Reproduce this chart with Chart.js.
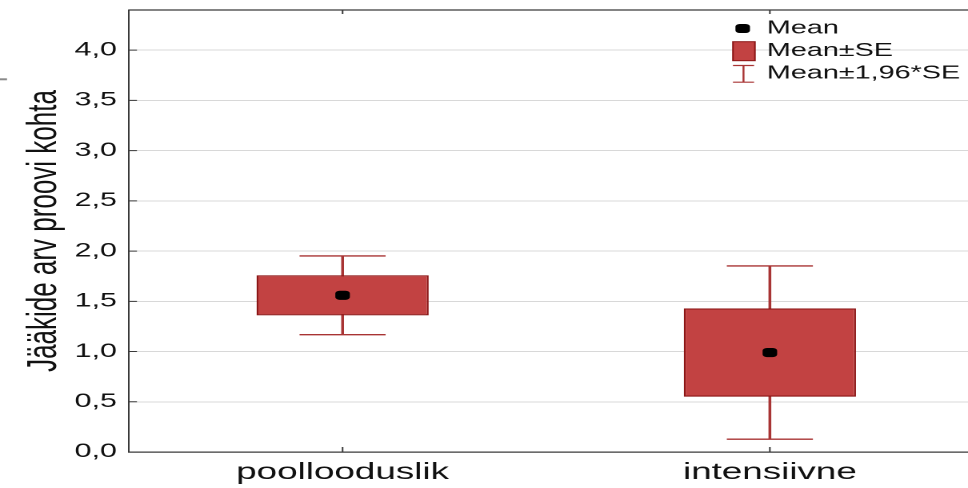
<!DOCTYPE html>
<html lang="et">
<head>
<meta charset="utf-8">
<script src="https://cdn.jsdelivr.net/npm/chart.js@4.4.1/dist/chart.umd.min.js"></script>
<style>
  html, body { margin: 0; padding: 0; background: #fff; overflow: hidden; width: 968px; height: 488px; }
  /* the whole figure is drawn at a narrow width and widened horizontally */
  #stage { width: 620px; height: 488px; transform: scaleX(1.6); transform-origin: 0 0; }
  canvas { display: block; }
</style>
</head>
<body>
<div id="stage"><canvas id="chart" width="620" height="488"></canvas></div>
<script>
// Group means and their standard errors
const categories = ['poollooduslik', 'intensiivne'];
const means = [1.56, 0.99];
const standardErrors = [0.20, 0.44];
const yTicks = [0, 0.5, 1, 1.5, 2, 2.5, 3, 3.5, 4];
const legendLabels = ['Mean', 'Mean±SE', 'Mean±1,96*SE'];
const yTitle = 'Jääkide arv proovi kohta';

// Boxes span mean ± SE, whiskers span mean ± 1.96·SE
const seBoxes = means.map((m, i) => [m - standardErrors[i], m + standardErrors[i]]);
const ciRanges = means.map((m, i) => [m - 1.96 * standardErrors[i], m + 1.96 * standardErrors[i]]);
const ciUpper = ciRanges.map(r => r[1]);
const ciLower = ciRanges.map(r => r[0]);

const FONT = '"Liberation Sans", Arial, sans-serif';
const boxFill = '#c24242';
const boxEdge = '#8c1616';
const whisker = '#a83434';
const axisColor = '#3a3a3a';
const textColor = '#111111';

// Frame top edge, inward tick marks and the legend box
const framePlugin = {
  id: 'frame',
  afterDraw(chart) {
    const { ctx, chartArea: a, scales: { x, y } } = chart;
    ctx.save();
    ctx.strokeStyle = axisColor;
    ctx.lineWidth = 1.3;
    ctx.beginPath();
    ctx.moveTo(a.left, a.top);
    ctx.lineTo(a.right, a.top);
    ctx.stroke();

    ctx.lineWidth = 1;
    ctx.beginPath();
    yTicks.forEach(v => {
      const py = y.getPixelForValue(v);
      ctx.moveTo(a.left, py);
      ctx.lineTo(a.left + 5, py);
    });
    categories.forEach((c, i) => {
      const px = x.getPixelForTick(i);
      ctx.moveTo(px, a.bottom);
      ctx.lineTo(px, a.bottom - 5);
      ctx.moveTo(px, a.top);
      ctx.lineTo(px, a.top + 4);
    });
    ctx.stroke();

    // short grey mark at the left margin
    ctx.strokeStyle = '#8a8a8a';
    ctx.lineWidth = 2;
    ctx.beginPath();
    ctx.moveTo(0, 79.3);
    ctx.lineTo(4.4, 79.3);
    ctx.stroke();

    // legend
    const iconX = 464.8;
    const textX = 479.2;
    const rows = [28.5, 51, 74];
    const baselines = [33.5, 56, 78.4];

    ctx.fillStyle = '#000';
    Chart.helpers.drawPoint(ctx, { pointStyle: 'rectRounded', radius: 5.3, rotation: 0, borderWidth: 0 }, iconX - 0.6, rows[0]);

    ctx.fillStyle = boxFill;
    ctx.strokeStyle = boxEdge;
    ctx.lineWidth = 1;
    ctx.fillRect(458.1, 41.7, 13.75, 19);
    ctx.strokeRect(458.1, 41.7, 13.75, 19);

    ctx.strokeStyle = whisker;
    ctx.lineWidth = 1.2;
    ctx.beginPath();
    ctx.moveTo(458.1, 65.5); ctx.lineTo(471.3, 65.5);
    ctx.moveTo(458.1, 82.2); ctx.lineTo(471.3, 82.2);
    ctx.moveTo(464.7, 65.5); ctx.lineTo(464.7, 82.2);
    ctx.stroke();

    ctx.fillStyle = textColor;
    ctx.font = '18px ' + FONT;
    ctx.textAlign = 'left';
    ctx.textBaseline = 'alphabetic';
    legendLabels.forEach((t, i) => ctx.fillText(t, textX, baselines[i]));
    ctx.restore();
  }
};

new Chart(document.getElementById('chart'), {
  type: 'bar',
  data: {
    labels: categories,
    datasets: [
      {
        type: 'bar', label: 'stem', data: ciRanges,
        backgroundColor: whisker, borderWidth: 0,
        barThickness: 1.1, grouped: false, order: 3
      },
      {
        type: 'bar', label: legendLabels[1], data: seBoxes,
        backgroundColor: boxFill, borderColor: boxEdge, borderWidth: 1.2, borderSkipped: false,
        barPercentage: 0.403, categoryPercentage: 1, grouped: false, order: 2
      },
      {
        type: 'line', label: 'upper', data: ciUpper, showLine: false,
        pointStyle: 'line', pointRadius: 26.9, pointBorderColor: whisker, pointBorderWidth: 1.3, order: 1
      },
      {
        type: 'line', label: 'lower', data: ciLower, showLine: false,
        pointStyle: 'line', pointRadius: 26.9, pointBorderColor: whisker, pointBorderWidth: 1.3, order: 1
      },
      {
        type: 'line', label: legendLabels[0], data: means, showLine: false,
        pointStyle: 'rectRounded', pointRadius: 5.3, pointBackgroundColor: '#000',
        pointBorderWidth: 0, order: 0
      }
    ]
  },
  options: {
    responsive: false,
    devicePixelRatio: 2,
    animation: false,
    events: [],
    layout: { autoPadding: false, padding: { left: 0, right: 5.3, top: 10, bottom: 0 } },
    plugins: { legend: { display: false }, tooltip: { enabled: false } },
    scales: {
      x: {
        grid: { display: false, drawTicks: false },
        border: { display: true, color: axisColor, width: 1.3 },
        ticks: { padding: 7, color: textColor, font: { family: FONT, size: 23 }, maxRotation: 0 },
        afterFit: s => { s.height = 36; s.paddingLeft = 0; s.paddingRight = 0; }
      },
      y: {
        min: 0, max: 4.4,
        afterBuildTicks: s => { s.ticks = yTicks.map(v => ({ value: v })); },
        afterFit: s => { s.width = 80.6; s.paddingTop = 0; s.paddingBottom = 0; },
        grid: { color: '#d8d8d8', lineWidth: 1, drawTicks: false },
        border: { display: true, color: axisColor, width: 1 },
        ticks: {
          padding: 7.5, color: textColor, font: { family: FONT, size: 19 },
          callback: v => Number(v).toFixed(1).replace('.', ',')
        },
        title: {
          display: true, text: yTitle, color: textColor,
          font: { family: FONT, size: 26 }, padding: { top: 12, bottom: 0 }
        }
      }
    }
  },
  plugins: [framePlugin]
});
</script>
</body>
</html>
